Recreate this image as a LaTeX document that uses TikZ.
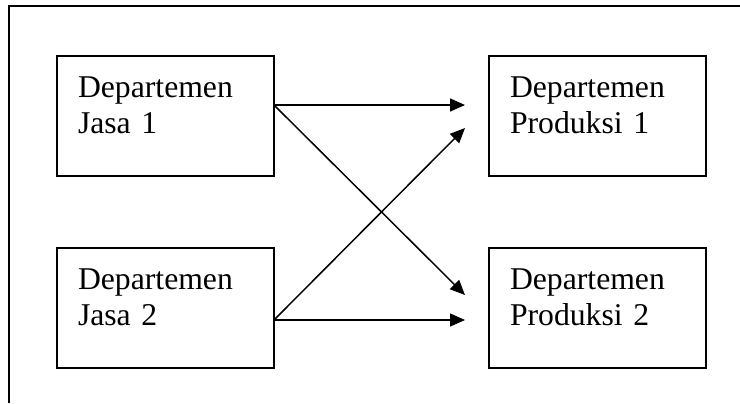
\documentclass[tikz,border=0pt]{standalone}
\usepackage{fontspec}
\setmainfont{Liberation Serif}
\usetikzlibrary{arrows.meta, positioning, calc}

\begin{document}
\begin{tikzpicture}[
        x=0.5pt, y=-0.5pt,
        font=\fontsize{15.85pt}{18.3pt}\selectfont,
        >={Triangle[length=7.5pt, width=6.5pt]},
        dept/.style={draw, line width=1pt, rectangle, align=left,
            text width=87.5pt, inner xsep=10.5pt, inner ysep=0pt, outer sep=0pt,
            text height=20.5pt, text depth=39.5pt},
        flow/.style={->, line width=0.75pt}
    ]
    \useasboundingbox (0,0) rectangle (740,403);

    % Frame (open at right and bottom)
    \draw[line width=1pt] (9,403) -- (9,6) -- (740,6);

    % Departments
    \node[dept] (jasa1) at (165.5,116) {Departemen\\Jasa 1};
    \node[dept] (jasa2) at (165.5,308) {Departemen\\Jasa 2};
    \node[dept] (prod1) at (597.5,116) {Departemen\\Produksi 1};
    \node[dept] (prod2) at (597.5,308) {Departemen\\Produksi 2};

    % Arrow ends
    \coordinate (j1out) at ($(jasa1.east)+(0,-11)$);
    \coordinate (j2out) at ($(jasa2.east)+(0,12)$);
    \coordinate (p1top) at ($(prod1.west)+(-24,-11)$);
    \coordinate (p1low) at ($(prod1.west)+(-24,12)$);
    \coordinate (p2top) at ($(prod2.west)+(-24,-13)$);
    \coordinate (p2low) at ($(prod2.west)+(-24,12)$);

    % Allocation flows
    \draw[flow] (j1out) -- (p1top);
    \draw[flow] (j1out) -- (p2top);
    \draw[flow] (j2out) -- (p1low);
    \draw[flow] (j2out) -- (p2low);

\end{tikzpicture}
\end{document}
